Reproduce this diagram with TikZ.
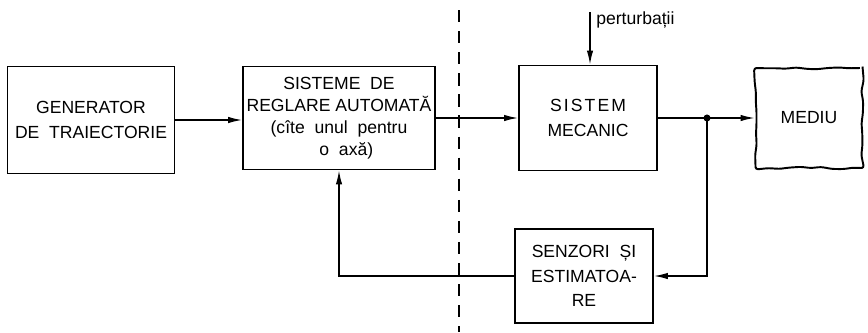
\documentclass[tikz,border=0pt]{standalone}
\usepackage{fontspec}
\setmainfont{Liberation Sans}
\newfontfamily\spacedfont[LetterSpace=12]{Liberation Sans}
\usepackage{tikz}
\usetikzlibrary{positioning,arrows.meta,calc,decorations.pathmorphing}
\tikzset{
  block/.style={draw, line width=1.1pt, align=center, inner sep=2pt, font=\fontsize{10}{14}\selectfont},
  wavy/.style={block, decorate, decoration={random steps, segment length=6pt, amplitude=0.7pt}, rounded corners=1.5pt},
  arr/.style={-{Latex[length=2.8mm,width=1.3mm]}, line width=0.8pt},
  conn/.style={line width=0.8pt},
}
\begin{document}
\begin{tikzpicture}[x=0.02cm, y=-0.02cm]
    \pgfmathsetseed{7}
    \useasboundingbox (0,0) rectangle (868,332);
    % blocks
    \node[block, minimum width=3.34cm, minimum height=2.14cm] (gen) at (91,120) {GENERATOR\\DE~~TRAIECTORIE};
    \node[block, minimum width=3.56cm, minimum height=2.06cm, font=\fontsize{10}{12.5}\selectfont] (sra) at (339,118) {SISTEME~~DE\\REGLARE AUTOMATĂ\\(cîte~~unul~~pentru\\~~~o~~axă)};
    \node[block, minimum width=2.76cm, minimum height=2.10cm] (sm) at (588,118) {{\spacedfont SISTEM}\\MECANIC};
    \node[wavy, minimum width=2.14cm, minimum height=2.00cm] (mediu) at (809,118) {MEDIU};
    \node[block, minimum width=2.76cm, minimum height=1.88cm] (senz) at (584,276) {SENZORI~~ȘI\\ESTIMATOA-\\RE};
    \coordinate (pert) at (590,12);
    \coordinate (j) at (707,118);
    \coordinate (dtop) at (459,10);
    \coordinate (dbot) at (459,332);
    % connectors
    \draw[arr] (gen.east) -- (gen.east -| sra.west);
    \draw[arr] (sra.east) -- (sra.east -| sm.west);
    \draw[arr] (sm.east) -- (mediu.west);
    \draw[arr] (pert) -- (pert |- sm.north);
    \node[anchor=west, font=\fontsize{10}{12}\selectfont, inner sep=0pt] (pertlbl) at ($(pert)+(6,8)$) {perturbații};
    \fill (j) circle (2pt);
    \draw[arr] (j) |- (senz.east);
    \draw[arr] (senz.west) -| (sra.south);
    \draw[line width=0.6pt, dash pattern=on 7pt off 5pt] (dtop) -- (dbot);
\end{tikzpicture}
\end{document}
